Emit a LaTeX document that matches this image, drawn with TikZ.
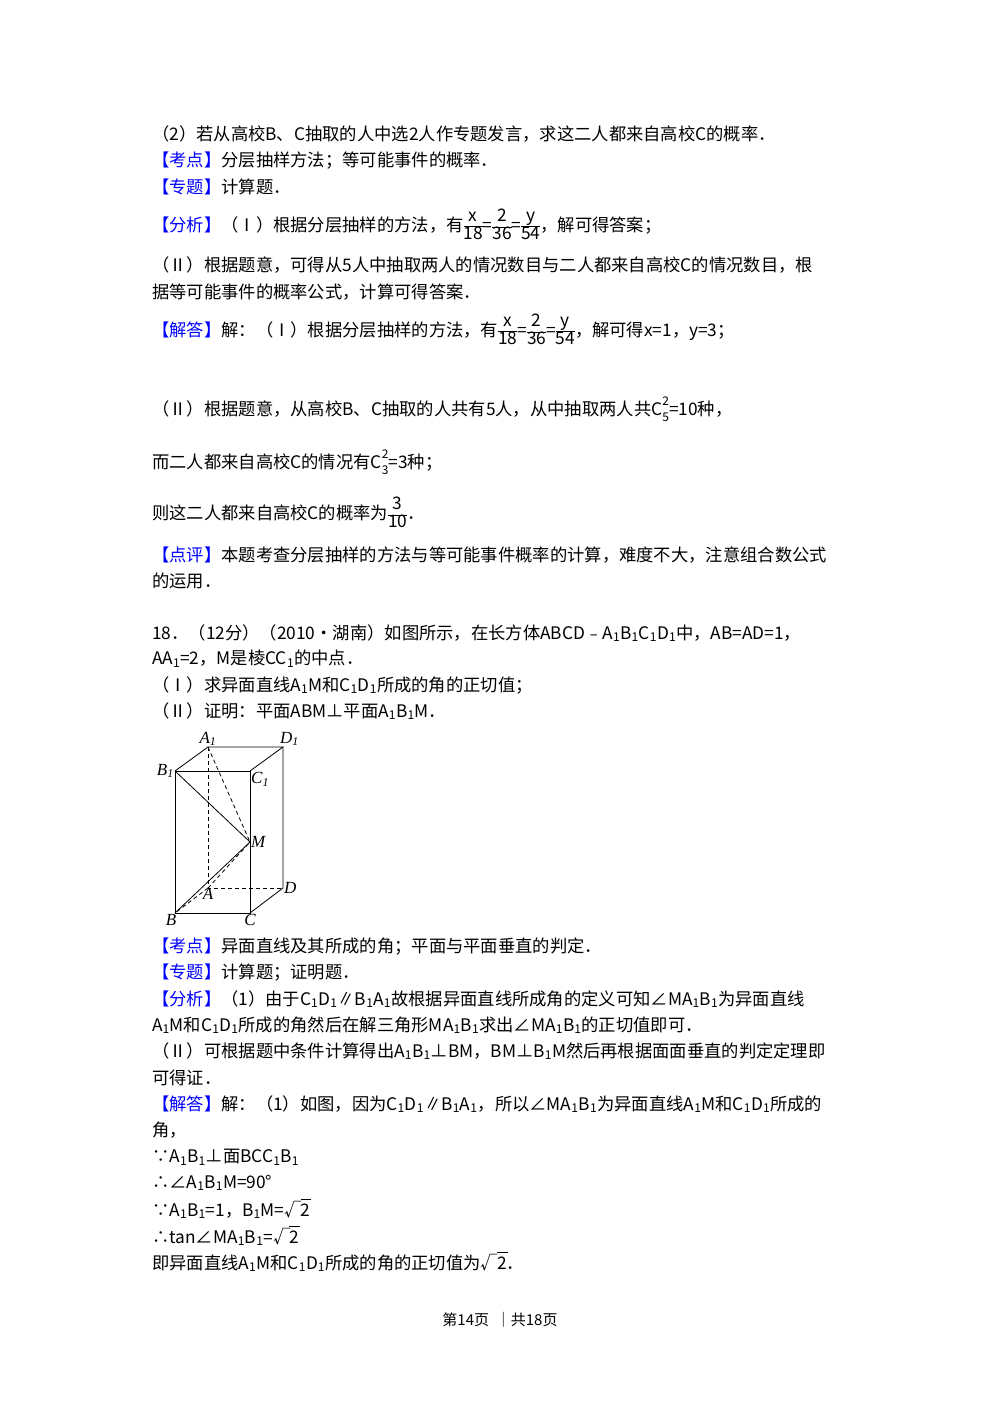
\documentclass[tikz,border=0pt]{standalone}
\usepackage{fontspec}
\setmainfont{Noto Sans CJK SC}
\newfontfamily\lat{Liberation Serif}
\begin{document}
\begin{tikzpicture}[x=1pt,y=-1pt,
  ln/.style={anchor=west,inner sep=0pt,font=\fontsize{17.3}{17.3}\selectfont},
  lab/.style={font=\lat\itshape\fontsize{17}{17}\selectfont,inner sep=1pt},
  ed/.style={line width=0.8pt},
  hd/.style={line width=0.8pt,dashed,dash pattern=on 4pt off 3pt}]
\useasboundingbox (0,0) rectangle (1000,1414);
\newcommand\kw[1]{\textcolor{blue}{【#1】}}
\newcommand\sbi{\textsubscript{1}}
\newcommand\fr[2]{{\setlength\tabcolsep{0pt}\renewcommand\arraystretch{0.95}\begin{tabular}{c}#1\\\hline #2\end{tabular}}}
\newcommand\cc[2]{C\rlap{\raisebox{0.55em}{\fontsize{12}{12}\selectfont #2}}\raisebox{-0.35em}{\fontsize{12}{12}\selectfont #1}}
\newcommand\sq[1]{√\kern-1pt\rlap{\rule[0.95em]{0.6em}{0.6pt}}#1}
\node[ln] (t1) at (152,134) {（2）若从高校B、C抽取的人中选2人作专题发言，求这二人都来自高校C的概率．};
\node[ln] (t2) at (152,161) {\kw{考点}分层抽样方法；等可能事件的概率．};
\node[ln] (t3) at (152,187) {\kw{专题}计算题．};
\node[ln] (t4) at (152,227) {\kw{分析}（Ⅰ）根据分层抽样的方法，有\fr{x}{18}=\fr{2}{36}=\fr{y}{54}，解可得答案；};
\node[ln] (t5) at (152,265) {（Ⅱ）根据题意，可得从5人中抽取两人的情况数目与二人都来自高校C的情况数目，根};
\node[ln] (t6) at (152,292) {据等可能事件的概率公式，计算可得答案．};
\node[ln] (t7) at (152,332) {\kw{解答}解：（Ⅰ）根据分层抽样的方法，有\fr{x}{18}=\fr{2}{36}=\fr{y}{54}，解可得x=1，y=3；};
\node[ln] (t8) at (152,409) {（Ⅱ）根据题意，从高校B、C抽取的人共有5人，从中抽取两人共\cc{5}{2}=10种，};
\node[ln] (t9) at (152,462) {而二人都来自高校C的情况有\cc{3}{2}=3种；};
\node[ln] (t10) at (152,515) {则这二人都来自高校C的概率为\fr{3}{10}．};
\node[ln] (t11) at (152,555) {\kw{点评}本题考查分层抽样的方法与等可能事件概率的计算，难度不大，注意组合数公式};
\node[ln] (t12) at (152,581) {的运用．};
\node[ln] (t13) at (152,633) {18．（12分）（2010•湖南）如图所示，在长方体ABCD﹣A\sbi B\sbi C\sbi D\sbi 中，AB=AD=1，};
\node[ln] (t14) at (152,659) {AA\sbi=2，M是棱CC\sbi 的中点．};
\node[ln] (t15) at (152,685) {（Ⅰ）求异面直线A\sbi M和C\sbi D\sbi 所成的角的正切值；};
\node[ln] (t16) at (152,711) {（Ⅱ）证明：平面ABM⊥平面A\sbi B\sbi M．};
\node[ln] (t17) at (152,947) {\kw{考点}异面直线及其所成的角；平面与平面垂直的判定．};
\node[ln] (t18) at (152,973) {\kw{专题}计算题；证明题．};
\node[ln] (t19) at (152,999) {\kw{分析}（1）由于C\sbi D\sbi∥B\sbi A\sbi 故根据异面直线所成角的定义可知∠MA\sbi B\sbi 为异面直线};
\node[ln] (t20) at (152,1025) {A\sbi M和C\sbi D\sbi 所成的角然后在解三角形MA\sbi B\sbi 求出∠MA\sbi B\sbi 的正切值即可．};
\node[ln] (t21) at (152,1051) {（Ⅱ）可根据题中条件计算得出A\sbi B\sbi⊥BM，BM⊥B\sbi M然后再根据面面垂直的判定定理即};
\node[ln] (t22) at (152,1078) {可得证．};
\node[ln] (t23) at (152,1104) {\kw{解答}解：（1）如图，因为C\sbi D\sbi∥B\sbi A\sbi，所以∠MA\sbi B\sbi 为异面直线A\sbi M和C\sbi D\sbi 所成的};
\node[ln] (t24) at (152,1130) {角，};
\node[ln] (t25) at (152,1157) {∵A\sbi B\sbi⊥面BCC\sbi B\sbi};
\node[ln] (t26) at (152,1183) {∴∠A\sbi B\sbi M=90°};
\node[ln] (t27) at (152,1209) {∵A\sbi B\sbi=1，B\sbi M=\sq{2}};
\node[ln] (t28) at (152,1236) {∴tan∠MA\sbi B\sbi=\sq{2}};
\node[ln] (t29) at (152,1262) {即异面直线A\sbi M和C\sbi D\sbi 所成的角的正切值为\sq{2}．};
\node[font=\fontsize{15}{15}\selectfont] (pg) at (500,1320) {第14页 \ ｜共18页};
% figure
\coordinate (A1) at (208,747); \coordinate (D1) at (283,747);
\coordinate (B1) at (175,771); \coordinate (C1) at (250,771);
\coordinate (A) at (208,888); \coordinate (D) at (283,888);
\coordinate (B) at (175,913); \coordinate (C) at (250,913);
\coordinate (M) at (250,842);
\draw[ed] (B1)--(C1)--(C)--(B)--cycle;
\draw[ed] (B1)--(A1)--(D1)--(C1);
\draw[ed] (D1)--(D)--(C);
\draw[ed] (B1)--(M)--(B);
\draw[hd] (A1)--(A)--(D); \draw[hd] (A)--(B);
\draw[hd] (A1)--(M); \draw[hd] (A)--(M);
\node[lab,anchor=south] (lA1) at (A1) {A\textsubscript{1}};
\node[lab,anchor=south west] (lD1) at ([xshift=-4pt]D1) {D\textsubscript{1}};
\node[lab,anchor=east] (lB1) at (B1) {B\textsubscript{1}};
\node[lab,anchor=north west] (lC1) at (C1) {C\textsubscript{1}};
\node[lab,anchor=west] (lM) at (M) {M};
\node[lab,anchor=west] (lD) at (D) {D};
\node[lab,anchor=north] (lA) at ([yshift=1pt]A) {A};
\node[lab,anchor=north] (lB) at ([xshift=-4pt]B) {B};
\node[lab,anchor=north] (lC) at (C) {C};
\end{tikzpicture}
\end{document}
